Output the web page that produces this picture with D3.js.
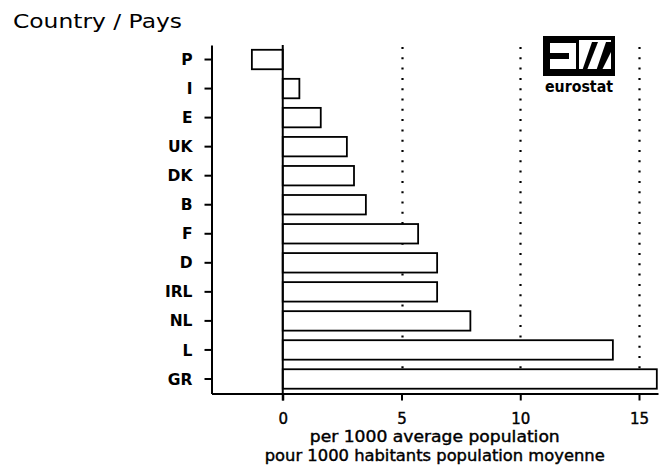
<!DOCTYPE html>
<html>
<head>
<meta charset="utf-8">
<script src="https://cdn.jsdelivr.net/npm/d3@7"></script>
<style>
  html, body { margin: 0; padding: 0; background: #fff; }
  svg { display: block; }
</style>
</head>
<body>
<script>
// ---- data ----
const countries = ["P", "I", "E", "UK", "DK", "B", "F", "D", "IRL", "NL", "L", "GR"];
const values = [-1.3, 0.7, 1.6, 2.7, 3.0, 3.5, 5.7, 6.5, 6.5, 7.9, 13.9, 15.75];
const xTicks = [0, 5, 10, 15];
const gridTicks = [5, 10, 15];
const yTitle = "Country / Pays";
const xTitle1 = "per 1000 average population";
const xTitle2 = "pour 1000 habitants population moyenne";
const logoText = "eurostat";

(function () {
const W = 660, H = 471;
const svg = d3.select("body").append("svg").attr("width", W).attr("height", H);

const mLeft = 211.5, mRight = 658, mTop = 45, mBottom = 393.5;
const x = d3.scaleLinear().domain([-3, 15.8]).range([mLeft, mRight]);
const y = d3.scaleBand().domain(countries).range([mTop, mBottom]).paddingInner(0.33).paddingOuter(0.165);

const font = "'DejaVu Sans', sans-serif";

// dotted grid lines
svg.append("g").selectAll("line").data(gridTicks).join("line")
  .attr("x1", d => Math.round(x(d)) + 0.5).attr("x2", d => Math.round(x(d)) + 0.5)
  .attr("y1", mTop + 2).attr("y2", mBottom)
  .attr("stroke", "#000").attr("stroke-width", 2.2)
  .attr("stroke-dasharray", "2 8.3");

// bars
svg.append("g").selectAll("rect").data(countries).join("rect")
  .attr("x", (d, i) => x(Math.min(0, values[i])))
  .attr("width", (d, i) => Math.abs(x(values[i]) - x(0)))
  .attr("y", d => y(d))
  .attr("height", y.bandwidth())
  .attr("fill", "#fff").attr("stroke", "#000").attr("stroke-width", 1.8);

// zero line
svg.append("line")
  .attr("x1", x(0)).attr("x2", x(0)).attr("y1", mTop).attr("y2", mBottom + 7)
  .attr("stroke", "#000").attr("stroke-width", 2);

// left axis
const yAxis = d3.axisLeft(y).tickSize(7).tickPadding(12).tickSizeOuter(0);
const gy = svg.append("g").attr("transform", `translate(${mLeft},0)`).call(yAxis);
gy.select(".domain").attr("stroke-width", 2);
gy.selectAll(".tick line").attr("stroke-width", 2);
gy.selectAll(".tick text").attr("font-family", font).attr("font-size", 15.5)
  .attr("font-weight", "bold").attr("fill", "#000").attr("dy", "0.36em");

// bottom axis
const xAxis = d3.axisBottom(x).tickValues(xTicks).tickSize(7).tickPadding(13).tickSizeOuter(0).tickFormat(d3.format("d"));
const gx = svg.append("g").attr("transform", `translate(0,${mBottom})`).call(xAxis);
gx.select(".domain").attr("stroke-width", 2);
gx.selectAll(".tick line").attr("stroke-width", 2);
gx.selectAll(".tick text").attr("font-family", font).attr("font-size", 15)
  .attr("fill", "#000").attr("stroke", "#000").attr("stroke-width", 0.4);

// axis titles
const cx = (mLeft + mRight) / 2;
svg.append("text").attr("x", cx).attr("y", 442).attr("text-anchor", "middle")
  .attr("font-family", font).attr("font-size", 15).attr("stroke", "#000").attr("stroke-width", 0.4)
  .attr("textLength", 250).attr("lengthAdjust", "spacingAndGlyphs").text(xTitle1);
svg.append("text").attr("x", cx).attr("y", 461).attr("text-anchor", "middle")
  .attr("font-family", font).attr("font-size", 15).attr("stroke", "#000").attr("stroke-width", 0.4)
  .attr("textLength", 340).attr("lengthAdjust", "spacingAndGlyphs").text(xTitle2);

// y title
svg.append("text").attr("x", 13).attr("y", 28)
  .attr("font-family", font).attr("font-size", 20)
  .attr("textLength", 169).attr("lengthAdjust", "spacingAndGlyphs").text(yTitle);

// logo
const lg = svg.append("g").attr("transform", "translate(545,38)");
const lw = 68, lh = 36;
lg.append("rect").attr("x", 0).attr("y", 0).attr("width", lw).attr("height", lh)
  .attr("fill", "#fff").attr("stroke", "#000").attr("stroke-width", 4);
lg.append("rect").attr("x", 0).attr("y", lh / 2 - 3).attr("width", 24).attr("height", 6).attr("fill", "#000");
lg.append("rect").attr("x", 0).attr("y", 0).attr("width", 5).attr("height", lh).attr("fill", "#000");
lg.append("rect").attr("x", 0).attr("y", 0).attr("width", 31).attr("height", 5).attr("fill", "#000");
lg.append("rect").attr("x", 0).attr("y", lh - 5).attr("width", 31).attr("height", 5).attr("fill", "#000");
lg.append("rect").attr("x", 31).attr("y", 0).attr("width", 3).attr("height", lh).attr("fill", "#000");
lg.append("path").attr("d", `M36,${lh} L47,4 L53,4 L42,${lh - 4} Z`).attr("fill", "#000");
lg.append("path").attr("d", `M50,${lh} L61,4 L${lw},4 L${lw},10 L57,${lh - 4} Z`).attr("fill", "#000");
lg.append("path").attr("d", `M34,${lh - 5} L${lw},${lh - 5} L${lw},${lh} L34,${lh} Z`).attr("fill", "#000");
lg.append("text").attr("x", lw / 2).attr("y", lh + 18).attr("text-anchor", "middle")
  .attr("font-family", font).attr("font-size", 15).attr("font-weight", "bold")
  .attr("textLength", lw).attr("lengthAdjust", "spacingAndGlyphs").text(logoText);
})();
</script>
</body>
</html>
